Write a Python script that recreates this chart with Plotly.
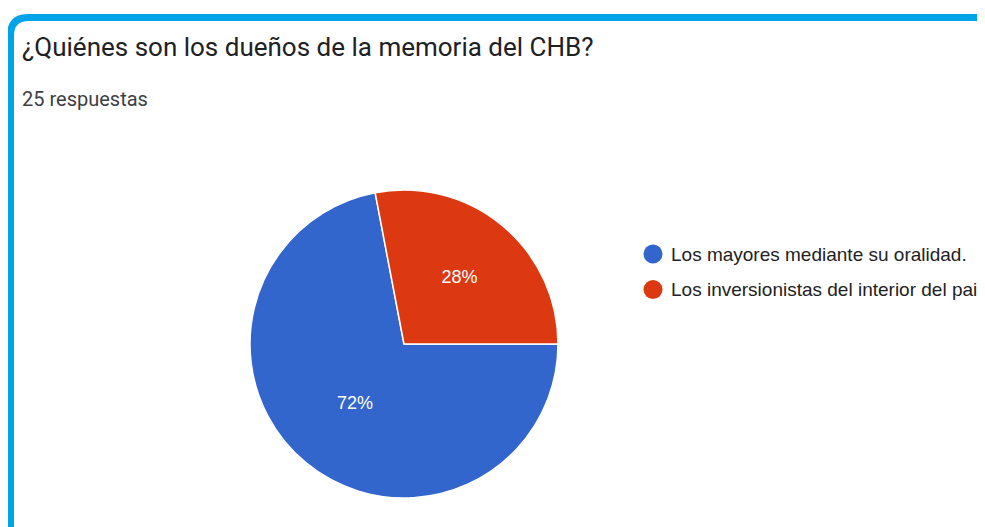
import plotly.graph_objects as go

# page body has an 8px default margin; the figure is sized and offset for that
OFF = 8
W, H = 985 - OFF, 527 - OFF

labels = ["Los mayores mediante su oralidad.", "Los inversionistas del interior del pais"]
values = [18, 7]
colors = ["#3366cc", "#dc3912"]
title_text = "¿Quiénes son los dueños de la memoria del CHB?"
subtitle_text = "25 respuestas"


def px(x):
    return (x - OFF) / W


def py(y):
    return 1 - (y - OFF) / H


fig = go.Figure()
fig.add_trace(go.Pie(
    labels=labels,
    values=values,
    sort=False,
    direction="clockwise",
    rotation=90,
    marker=dict(colors=colors, line=dict(color="white", width=1.5)),
    textinfo="percent",
    texttemplate="%{percent:.0%}",
    textposition="inside",
    insidetextorientation="horizontal",
    textfont=dict(family="Liberation Sans, Arial, sans-serif", size=18, color="white"),
    domain=dict(x=[px(250), px(558)], y=[py(498), py(190)]),
    hoverinfo="label+percent",
    showlegend=False,
))

# rounded border
l, t, r, b = 10.5, 17.5, 992, 535
rad = 18
path = (
    f"M {px(l)},{py(b)} L {px(l)},{py(t + rad)} "
    f"Q {px(l)},{py(t)} {px(l + rad)},{py(t)} "
    f"L {px(r - rad)},{py(t)} Q {px(r)},{py(t)} {px(r)},{py(t + rad)} "
    f"L {px(r)},{py(b)}"
)
shapes = [dict(type="path", xref="paper", yref="paper", path=path,
               line=dict(color="#00a3e8", width=7), layer="above")]

annotations = [
    dict(text=title_text, x=px(20), y=py(47), xref="paper", yref="paper",
         xanchor="left", yanchor="middle", showarrow=False,
         font=dict(family="Roboto, sans-serif", size=26, color="#202124")),
    dict(text=subtitle_text, x=px(20), y=py(99), xref="paper", yref="paper",
         xanchor="left", yanchor="middle", showarrow=False,
         font=dict(family="Roboto, sans-serif", size=20, color="#3c4043")),
]

# legend (circles + labels), built from labels/colors
leg_x, leg_y0, leg_dy, rr = 653, 254, 35.5, 9.5
for i, (lab, col) in enumerate(zip(labels, colors)):
    cy = leg_y0 + i * leg_dy
    shapes.append(dict(type="circle", xref="paper", yref="paper",
                       x0=px(leg_x - rr), x1=px(leg_x + rr),
                       y0=py(cy + rr), y1=py(cy - rr),
                       fillcolor=col, line=dict(width=0)))
    annotations.append(dict(text=lab, x=px(669), y=py(cy), xref="paper", yref="paper",
                            xanchor="left", yanchor="middle", showarrow=False,
                            font=dict(family="Liberation Sans, Arial, sans-serif",
                                      size=19, color="#222222")))

fig.update_layout(
    width=W, height=H,
    margin=dict(l=0, r=0, t=0, b=0),
    paper_bgcolor="white",
    plot_bgcolor="white",
    shapes=shapes,
    annotations=annotations,
    showlegend=False,
)

fig.write_html("out.html")
